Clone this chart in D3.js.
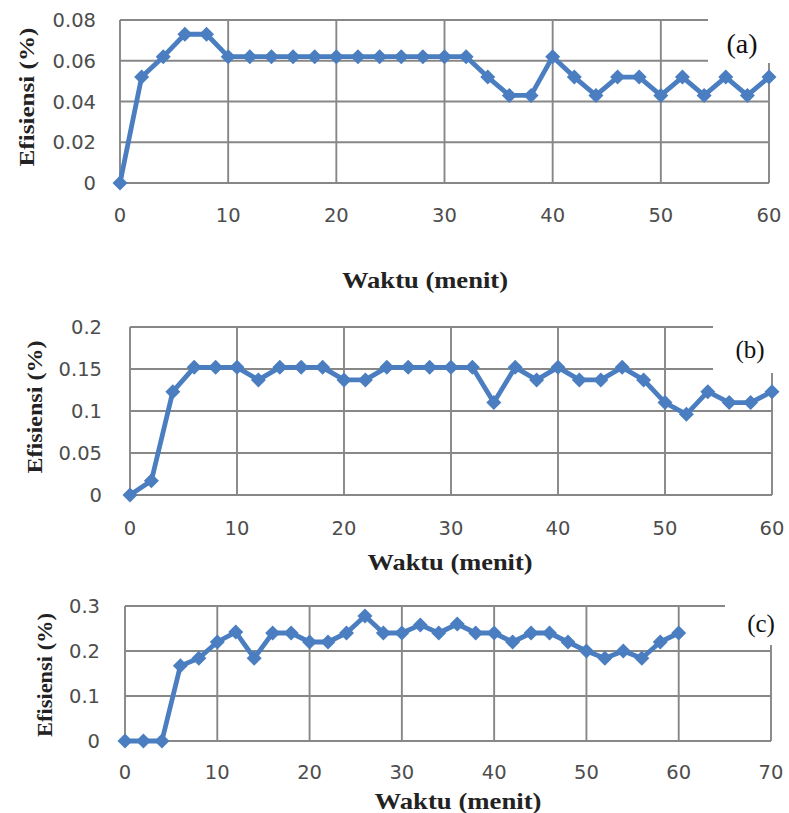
<!DOCTYPE html>
<html>
<head>
<meta charset="utf-8">
<script src="https://cdn.jsdelivr.net/npm/d3@7"></script>
<style>
  html, body { margin: 0; padding: 0; background: #fff; }
  svg { display: block; }
</style>
</head>
<body>
<svg id="chart" width="789" height="813"></svg>
<script>
// ---------- DATA ----------
const minutes = [0,2,4,6,8,10,12,14,16,18,20,22,24,26,28,30,32,34,36,38,40,42,44,46,48,50,52,54,56,58,60];
const effA = [0,0.052,0.062,0.073,0.073,0.062,0.062,0.062,0.062,0.062,0.062,0.062,0.062,0.062,0.062,0.062,0.062,0.052,0.043,0.043,0.062,0.052,0.043,0.052,0.052,0.043,0.052,0.043,0.052,0.043,0.052];
const effB = [0,0.017,0.123,0.152,0.152,0.152,0.137,0.152,0.152,0.152,0.137,0.137,0.152,0.152,0.152,0.152,0.152,0.11,0.152,0.137,0.152,0.137,0.137,0.152,0.137,0.11,0.096,0.123,0.11,0.11,0.123];
const effC = [0,0,0,0.167,0.184,0.22,0.242,0.184,0.24,0.24,0.22,0.22,0.24,0.278,0.24,0.24,0.258,0.24,0.26,0.24,0.24,0.22,0.24,0.24,0.22,0.2,0.184,0.2,0.184,0.22,0.24];

const yTicksA = [0,0.02,0.04,0.06,0.08];
const yTicksB = [0,0.05,0.1,0.15,0.2];
const yTicksC = [0,0.1,0.2,0.3];
const xTicksAB = [0,10,20,30,40,50,60];
const xTicksC = [0,10,20,30,40,50,60,70];

const panelLabels = ["(a)", "(b)", "(c)"];
const xTitle = "Waktu (menit)";
const yTitle = "Efisiensi (%)";

// ---------- LAYOUT ----------
const panels = [
  { values: effA, yTicks: yTicksA, xTicks: xTicksAB, label: panelLabels[0],
    x0: 120, x1: 769, yTop: 20, yBot: 183,
    xLabY: 222, yLabRight: 96, titleX: 425, titleY: 288, titleLen: 166,
    yTitleX: 27, yTitleY: 97, yTitleLen: 139,
    box: {x: 708, y: 0, w: 72, h: 63}, labX: 742, labY: 53, labSize: 28 },
  { values: effB, yTicks: yTicksB, xTicks: xTicksAB, label: panelLabels[1],
    x0: 130, x1: 772, yTop: 327, yBot: 495,
    xLabY: 535, yLabRight: 102, titleX: 450, titleY: 570, titleLen: 165,
    yTitleX: 35, yTitleY: 407, yTitleLen: 133,
    box: {x: 713, y: 318, w: 75, h: 55}, labX: 750, labY: 358, labSize: 25 },
  { values: effC, yTicks: yTicksC, xTicks: xTicksC, label: panelLabels[2],
    x0: 125, x1: 771, yTop: 606, yBot: 741,
    xLabY: 779, yLabRight: 100, titleX: 458, titleY: 809, titleLen: 167,
    yTitleX: 45, yTitleY: 675, yTitleLen: 124,
    box: {x: 725, y: 598, w: 64, h: 47}, labX: 761, labY: 632, labSize: 25 }
];

const svg = d3.select("#chart");
const gridColor = "#878787";
const lineColor = "#4a7ec0";

panels.forEach(p => {
  const xMax = p.xTicks[p.xTicks.length - 1];
  const yMax = p.yTicks[p.yTicks.length - 1];
  const x = d3.scaleLinear().domain([0, xMax]).range([p.x0, p.x1]);
  const y = d3.scaleLinear().domain([0, yMax]).range([p.yBot, p.yTop]);
  const g = svg.append("g");

  // horizontal gridlines
  g.selectAll("line.hg").data(p.yTicks).join("line")
    .attr("x1", p.x0).attr("x2", p.x1)
    .attr("y1", d => y(d)).attr("y2", d => y(d))
    .attr("stroke", gridColor).attr("stroke-width", 1.9);
  // vertical gridlines
  g.selectAll("line.vg").data(p.xTicks).join("line")
    .attr("x1", d => x(d)).attr("x2", d => x(d))
    .attr("y1", p.yTop).attr("y2", p.yBot)
    .attr("stroke", gridColor).attr("stroke-width", 1.9);

  // y tick labels
  g.selectAll("text.yl").data(p.yTicks).join("text")
    .attr("x", p.yLabRight).attr("y", d => y(d))
    .attr("dy", "0.36em")
    .attr("text-anchor", "end")
    .attr("font-family", "'DejaVu Sans', sans-serif")
    .attr("font-size", 19.5)
    .attr("fill", "#4d4d4d")
    .text(d => String(d));

  // x tick labels
  g.selectAll("text.xl").data(p.xTicks).join("text")
    .attr("x", d => x(d)).attr("y", p.xLabY)
    .attr("text-anchor", "middle")
    .attr("font-family", "'DejaVu Sans', sans-serif")
    .attr("font-size", 19.5)
    .attr("fill", "#4d4d4d")
    .text(d => String(d));

  // line
  const pts = minutes.map((m, i) => [m, p.values[i]]);
  g.append("path")
    .datum(pts)
    .attr("fill", "none")
    .attr("stroke", lineColor)
    .attr("stroke-width", 4.8)
    .attr("stroke-linejoin", "round")
    .attr("d", d3.line().x(d => x(d[0])).y(d => y(d[1])));

  // diamond markers
  const r = 7.5;
  g.selectAll("path.mk").data(pts).join("path")
    .attr("fill", lineColor)
    .attr("d", d => {
      const cx = x(d[0]), cy = y(d[1]);
      return `M${cx},${cy - r}L${cx + r},${cy}L${cx},${cy + r}L${cx - r},${cy}Z`;
    });

  // label box covering the top-right corner
  g.append("rect")
    .attr("x", p.box.x).attr("y", p.box.y)
    .attr("width", p.box.w).attr("height", p.box.h)
    .attr("fill", "#fff");
  g.append("text")
    .attr("x", p.labX).attr("y", p.labY)
    .attr("text-anchor", "middle")
    .attr("font-family", "'Liberation Serif', 'Times New Roman', serif")
    .attr("font-size", p.labSize)
    .attr("fill", "#111")
    .text(p.label);

  // x title
  g.append("text")
    .attr("x", p.titleX).attr("y", p.titleY)
    .attr("text-anchor", "middle")
    .attr("font-family", "'Liberation Serif', 'Times New Roman', serif")
    .attr("font-weight", "bold")
    .attr("font-size", 24)
    .attr("fill", "#222")
    .attr("textLength", p.titleLen)
    .attr("lengthAdjust", "spacingAndGlyphs")
    .text(xTitle);

  // y title
  g.append("text")
    .attr("transform", `translate(${p.yTitleX + 7},${p.yTitleY}) rotate(-90)`)
    .attr("text-anchor", "middle")
    .attr("font-family", "'Liberation Serif', 'Times New Roman', serif")
    .attr("font-weight", "bold")
    .attr("font-size", 22)
    .attr("fill", "#222")
    .attr("textLength", p.yTitleLen)
    .attr("lengthAdjust", "spacingAndGlyphs")
    .text(yTitle);
});
</script>
</body>
</html>
